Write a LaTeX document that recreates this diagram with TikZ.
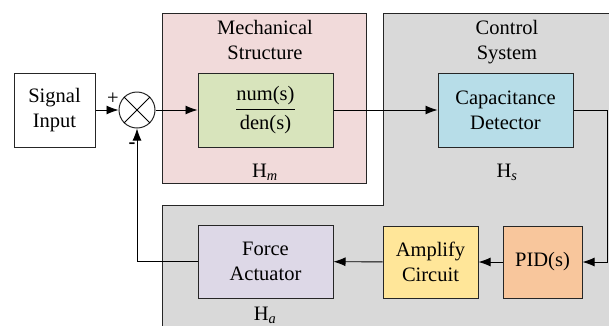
\documentclass[tikz,border=0pt]{standalone}
\usepackage{amsmath}
\usepackage{fontspec}
\setmainfont{Liberation Serif}
\usetikzlibrary{arrows.meta}
\definecolor{mechpink}{RGB}{241,218,218}
\definecolor{ctrlgray}{RGB}{217,217,217}
\definecolor{tfgreen}{RGB}{216,228,188}
\definecolor{detblue}{RGB}{183,221,232}
\definecolor{pidorange}{RGB}{248,198,156}
\definecolor{ampyellow}{RGB}{255,230,153}
\definecolor{actpurple}{RGB}{221,216,231}
\tikzset{
    block/.style = {draw=black!85, line width=1pt, rectangle, minimum width=135pt, minimum height=74pt, align=center, inner sep=0pt},
    group-box/.style = {draw=black!85, line width=1pt},
    signal/.style = {line width=0.9pt, -{Latex[length=12pt,width=9pt]}},
}

\begin{document}
\begin{tikzpicture}[x=1pt, y=-1pt, every node/.style={font=\fontsize{20.5}{25}\selectfont}]
\useasboundingbox (0,0) rectangle (609,325);
\clip (0,0) rectangle (609,325);
% group backgrounds
\draw[group-box, fill=ctrlgray] (383,13) -- (620,13) -- (620,340) -- (162,340) -- (162,205) -- (383,205) -- cycle;
\draw[group-box, fill=mechpink] (162,13) rectangle (366,183);
\node[align=center] (mechtitle) at (265,40) {Mechanical\\Structure};
\node[align=center] (ctrltitle) at (507,42) {Control\\System};
% blocks
\node[block, minimum width=81pt] (sig) at (54.5,110) {Signal\\Input};
\node[draw=black!85, line width=1pt, circle, minimum size=36pt, inner sep=0pt, fill=white] (sum) at (137,110) {};
\draw[line width=0.9pt] (sum.45) -- (sum.225) (sum.135) -- (sum.315);
\node[block, fill=tfgreen] (tf) at (265.5,110) {$\dfrac{\text{num(s)}}{\text{den(s)}}$};
\node[block, fill=detblue] (det) at (505.5,110) {Capacitance\\Detector};
\node[block, fill=pidorange, minimum width=79pt, minimum height=72pt] (pid) at (542.5,262) {PID(s)};
\node[block, fill=ampyellow, minimum width=95pt, minimum height=72pt] (amp) at (430.5,262) {Amplify\\Circuit};
\node[block, fill=actpurple, minimum height=73pt] (act) at (265.5,261.5) {Force\\Actuator};
% labels
\node (hm) at (265,172) {H\textsubscript{\itshape m}};
\node (hs) at (507,172) {H\textsubscript{\itshape s}};
\node (ha) at (265,315) {H\textsubscript{\itshape a}};
\node (plus) at (113,99) {+};
\node (minus) at (132,146) {\textbf{-}};
% connections
\coordinate (turn) at (607,110);
\draw[signal] (sig) -- (sum);
\draw[signal] (sum) -- (tf);
\draw[signal] (tf) -- (det);
\draw[signal] (det.east) -- (turn) |- (pid.east);
\draw[signal] (pid) -- (amp);
\draw[signal] (amp) -- (act);
\draw[signal] (act.west) -| (sum.south);
\end{tikzpicture}
\end{document}
